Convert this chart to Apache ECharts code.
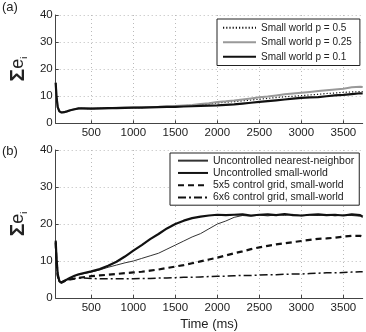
<!DOCTYPE html>
<html><head><meta charset="utf-8">
<script src="https://cdn.jsdelivr.net/npm/echarts@6/dist/echarts.min.js"></script>
<style>html,body{margin:0;padding:0;background:#fff}#c{width:366px;height:332px}</style>
</head><body><div id="c"></div>
<script>
const time = [76,85,100,120,145,175,210,250,300,350,400,500,600,700,800,900,1000,1100,1200,1300,1400,1500,1600,1700,1800,1900,2000,2100,2200,2300,2400,2500,2600,2700,2800,2900,3000,3100,3200,3300,3400,3500,3600,3700,3730];
const xTicks = [500,1000,1500,2000,2500,3000,3500];
const yTicks = [0,10,20,30,40];

// panel (a)
const swP05 = [15,10,6,4.4,4.0,4.1,4.4,4.8,5.2,5.5,5.5,5.4,5.5,5.6,5.6,5.7,5.8,5.8,5.9,6.0,6.1,6.3,6.5,6.7,6.9,7.2,7.5,7.8,8.0,8.3,8.6,8.9,9.2,9.5,9.8,10.0,10.2,10.5,10.7,11.0,11.2,11.4,11.6,11.7,11.7];
const swP025 = [15,10,6,4.4,4.0,4.1,4.4,4.8,5.2,5.5,5.5,5.5,5.5,5.6,5.7,5.8,5.8,5.9,6.0,6.1,6.3,6.4,6.6,6.8,7.1,7.4,7.9,8.1,8.4,8.8,9.2,9.6,9.9,10.3,10.7,11.0,11.3,11.6,11.9,12.2,12.5,12.8,13.3,13.5,13.4];
const swP01 = [15,10,6,4.4,4.0,4.1,4.4,4.8,5.2,5.5,5.5,5.4,5.5,5.6,5.6,5.7,5.8,5.8,5.9,6.0,6.1,6.1,6.2,6.3,6.4,6.5,6.6,6.8,7.0,7.3,7.6,7.9,8.2,8.5,8.8,9.1,9.4,9.6,9.7,10.0,10.3,10.5,10.8,11.1,11.0];

// panel (b)
const uncNN = [15,10.5,6.3,4.4,4.0,4.4,4.9,5.4,5.9,6.3,6.5,7.0,7.6,8.3,8.9,9.5,10.0,10.7,11.4,12.1,13.2,14.3,15.4,16.5,17.4,18.7,20.0,20.8,21.8,22.3,22.1,22.4,22.2,22.5,22.3,22.6,22.2,22.4,22.3,22.5,22.2,22.4,22.3,22.1,21.8];
const uncSW = [15.5,11,6.5,4.5,4.2,4.6,5.0,5.5,6.0,6.4,6.7,7.2,7.8,8.7,9.8,11.2,12.8,14.3,15.9,17.3,18.8,20.0,20.9,21.6,22.0,22.3,22.5,22.4,22.5,22.6,22.3,22.5,22.6,22.4,22.7,22.4,22.3,22.5,22.6,22.4,22.5,22.3,22.6,22.4,22.0];
const grid5 = [15,10,6,4.4,4.2,4.5,4.8,5.0,5.2,5.4,5.6,5.9,6.1,6.3,6.5,6.7,6.9,7.1,7.4,7.7,8.1,8.5,8.9,9.4,9.9,10.4,10.9,11.5,12.1,12.6,13.2,13.7,14.1,14.5,14.8,15.1,15.4,15.7,16.0,16.1,16.3,16.6,16.8,16.8,16.6];
const grid6 = [15,10,6,4.5,4.4,4.6,4.9,5.1,5.3,5.4,5.4,5.3,5.2,5.2,5.2,5.2,5.2,5.3,5.3,5.4,5.4,5.5,5.6,5.6,5.7,5.8,5.9,5.9,6.0,6.1,6.1,6.2,6.3,6.3,6.4,6.5,6.5,6.6,6.7,6.8,6.8,6.9,7.0,7.1,7.1];

const FONT = 'Liberation Sans, Arial, sans-serif';
const pairs = a => time.map((t,i)=>[t,a[i]]);

function xAxis(idx, withName){
  return {
    type:'value', gridIndex:idx, min:76, max:3730,
    axisLine:{show:true, lineStyle:{color:'#444', width:1}},
    axisTick:{show:true, inside:true, length:3, customValues:xTicks, lineStyle:{color:'#444'}},
    axisLabel:{customValues:xTicks, formatter:v=>String(v), fontFamily:FONT, fontSize:11.5, color:'#222', margin:4},
    splitLine:{show:true, lineStyle:{color:'#bbb', type:[1,3], width:1}},
    name: withName ? 'Time (ms)' : '', nameLocation:'middle', nameGap:20,
    nameTextStyle:{fontFamily:FONT, fontSize:13, color:'#222'}
  };
}
function yAxis(idx){
  return {
    type:'value', gridIndex:idx, min:0, max:40, interval:10,
    axisLine:{show:true, lineStyle:{color:'#444', width:1}},
    axisTick:{show:true, inside:true, length:3, lineStyle:{color:'#444'}},
    axisLabel:{formatter:v=>String(v), fontFamily:FONT, fontSize:11.5, color:'#222', margin:3},
    splitLine:{show:true, lineStyle:{color:'#bbb', type:[1,3], width:1}},
    name:'{s|Σ}{e|e}{i|i}', nameLocation:'middle', nameRotate:90, nameGap:21,
    nameTextStyle:{rich:{
      s:{fontFamily:FONT, fontSize:21, color:'#222', fontWeight:'bold'},
      e:{fontFamily:FONT, fontSize:18, color:'#222'},
      i:{fontFamily:FONT, fontSize:9, color:'#222', verticalAlign:'bottom', padding:[10,0,0,0]}
    }}
  };
}
function line(name, data, xi, color, width, type){
  return {type:'line', name, xAxisIndex:xi, yAxisIndex:xi, data:pairs(data), symbol:'none', smooth:false, animation:false,
    lineStyle:{color, width, type: type || 'solid'}, itemStyle:{color}};
}
const legendCommon = {orient:'vertical', itemGap:0, itemTextGap:5, backgroundColor:'#fff', borderColor:'#222', borderWidth:1, borderRadius:0,
  itemStyle:{opacity:0, borderWidth:0}};

const chart = echarts.init(document.getElementById('c'), null, {renderer:'canvas'});
chart.setOption({
  animation:false,
  backgroundColor:'#fff',
  grid:[
    {left:41, top:15, width:321.7, height:108.3},
    {left:41, top:150, width:321.7, height:155}
  ],
  xAxis:[xAxis(0,false), xAxis(1,true)],
  yAxis:[yAxis(0), yAxis(1)],
  title:[
    {text:'(a)', left:2, top:1, textStyle:{fontFamily:FONT, fontSize:13, fontWeight:'normal', color:'#222'}, padding:0},
    {text:'(b)', left:2, top:145, textStyle:{fontFamily:FONT, fontSize:13, fontWeight:'normal', color:'#222'}, padding:0}
  ],
  legend:[
    Object.assign({}, legendCommon, {left:217, top:19, data:['Small world p = 0.5','Small world p = 0.25','Small world p = 0.1'],
     itemWidth:33, itemHeight:14, padding:[1.5,8,1.5,5],
     textStyle:{fontFamily:FONT, fontSize:10, color:'#222', lineHeight:14.5}}),
    Object.assign({}, legendCommon, {left:170, top:153, data:['Uncontrolled nearest-neighbor','Uncontrolled small-world','5x5 control grid, small-world','6x6 control grid, small-world'],
     itemWidth:30, itemHeight:12, padding:[1.5,5,1.5,7],
     textStyle:{fontFamily:FONT, fontSize:10.5, color:'#222', lineHeight:12.3}})
  ],
  series:[
    line('Small world p = 0.5', swP05, 0, '#111', 1.2, [1.2,2]),
    line('Small world p = 0.25', swP025, 0, '#999', 2),
    line('Small world p = 0.1', swP01, 0, '#111', 2.2),
    line('Uncontrolled nearest-neighbor', uncNN, 1, '#333', 1),
    line('Uncontrolled small-world', uncSW, 1, '#111', 2.2),
    line('5x5 control grid, small-world', grid5, 1, '#111', 2.2, [6,4]),
    line('6x6 control grid, small-world', grid6, 1, '#111', 1.5, [8,3,2,3])
  ]
});
</script></body></html>
